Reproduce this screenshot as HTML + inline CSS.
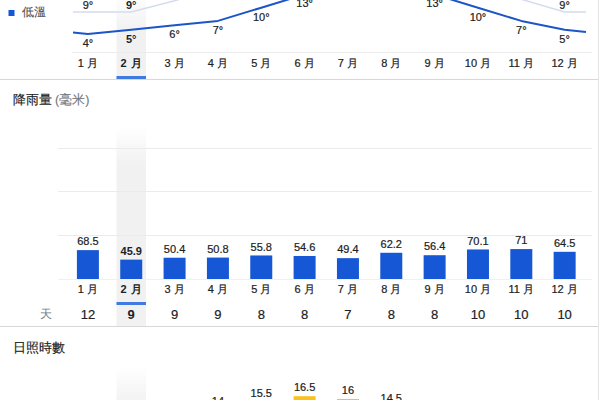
<!DOCTYPE html>
<html><head><meta charset="utf-8">
<style>
html,body{margin:0;padding:0;background:#fff;}
body{width:600px;height:400px;overflow:hidden;position:relative;font-family:"Liberation Sans",sans-serif;}
svg{position:absolute;left:0;top:0;}
text{font-family:"Liberation Sans",sans-serif;}
.s{stroke:#202124;stroke-width:0.2;}
</style></head><body>
<svg width="600" height="400" viewBox="0 0 600 400">
<defs>
<linearGradient id="g1" x1="0" y1="0" x2="0" y2="1">
<stop offset="0" stop-color="#f1f1f1" stop-opacity="0"/>
<stop offset="1" stop-color="#f1f1f1" stop-opacity="1"/>
</linearGradient>
</defs>

<rect x="116.49" y="-8" width="29.5" height="40" fill="url(#g1)"/>
<rect x="116.49" y="32" width="29.5" height="47" fill="#f1f1f1"/>
<rect x="116.49" y="127" width="29.5" height="38" fill="url(#g1)"/>
<rect x="116.49" y="165" width="29.5" height="161" fill="#f1f1f1"/>
<rect x="116.49" y="367" width="29.5" height="38" fill="url(#g1)"/>
<rect x="8.5" y="10" width="6" height="6" fill="#1557d4"/>
<text x="22" y="15.5" font-size="11.5" fill="#4d5156" stroke="#4d5156" stroke-width="0.1">低溫</text>
<rect x="72" y="52" width="520" height="1" fill="#ececec"/>
<polyline points="73.00,12.00 87.90,12.00 131.24,12.00 174.58,0.70 217.92,-12.00 261.26,-25.00 304.60,-38.00 347.94,-45.00 391.28,-45.00 434.62,-32.00 477.96,-14.00 521.30,-0.70 564.64,12.00 586.00,12.00" fill="none" stroke="#d4dcef" stroke-width="1.5" stroke-linejoin="round"/>
<polyline points="73.00,32.60 87.90,34.10 131.24,29.70 174.58,25.30 217.92,20.90 261.26,7.70 304.60,-5.50 347.94,-14.30 391.28,-14.30 434.62,-5.50 477.96,7.70 521.30,20.90 564.64,29.70 586.00,32.00" fill="none" stroke="#1c55c8" stroke-width="2" stroke-linejoin="round"/>
<text x="87.90" y="8.8" font-size="11" text-anchor="middle" fill="#202124"  class="s">9°</text>
<text x="131.24" y="8.8" font-size="11" text-anchor="middle" fill="#202124"  font-weight="bold" stroke="none">9°</text>
<text x="564.64" y="8.8" font-size="11" text-anchor="middle" fill="#202124"  class="s">9°</text>
<text x="87.90" y="47.00" font-size="11" text-anchor="middle" fill="#202124"  class="s">4°</text>
<text x="131.24" y="42.60" font-size="11" text-anchor="middle" fill="#202124"  font-weight="bold" stroke="none">5°</text>
<text x="174.58" y="38.20" font-size="11" text-anchor="middle" fill="#202124"  class="s">6°</text>
<text x="217.92" y="33.80" font-size="11" text-anchor="middle" fill="#202124"  class="s">7°</text>
<text x="261.26" y="20.60" font-size="11" text-anchor="middle" fill="#202124"  class="s">10°</text>
<text x="304.60" y="7.40" font-size="11" text-anchor="middle" fill="#202124"  class="s">13°</text>
<text x="347.94" y="-1.40" font-size="11" text-anchor="middle" fill="#202124"  class="s">15°</text>
<text x="391.28" y="-1.40" font-size="11" text-anchor="middle" fill="#202124"  class="s">15°</text>
<text x="434.62" y="7.40" font-size="11" text-anchor="middle" fill="#202124"  class="s">13°</text>
<text x="477.96" y="20.60" font-size="11" text-anchor="middle" fill="#202124"  class="s">10°</text>
<text x="521.30" y="33.80" font-size="11" text-anchor="middle" fill="#202124"  class="s">7°</text>
<text x="564.64" y="42.60" font-size="11" text-anchor="middle" fill="#202124"  class="s">5°</text>
<text x="87.90" y="66.6" font-size="11" text-anchor="middle" fill="#202124"  class="s">1 月</text>
<text x="131.24" y="66.6" font-size="11" text-anchor="middle" fill="#202124"  font-weight="bold" stroke="none">2 <tspan dx="1.5">月</tspan></text>
<text x="174.58" y="66.6" font-size="11" text-anchor="middle" fill="#202124"  class="s">3 月</text>
<text x="217.92" y="66.6" font-size="11" text-anchor="middle" fill="#202124"  class="s">4 月</text>
<text x="261.26" y="66.6" font-size="11" text-anchor="middle" fill="#202124"  class="s">5 月</text>
<text x="304.60" y="66.6" font-size="11" text-anchor="middle" fill="#202124"  class="s">6 月</text>
<text x="347.94" y="66.6" font-size="11" text-anchor="middle" fill="#202124"  class="s">7 月</text>
<text x="391.28" y="66.6" font-size="11" text-anchor="middle" fill="#202124"  class="s">8 月</text>
<text x="434.62" y="66.6" font-size="11" text-anchor="middle" fill="#202124"  class="s">9 月</text>
<text x="477.96" y="66.6" font-size="11" text-anchor="middle" fill="#202124"  class="s">10 月</text>
<text x="521.30" y="66.6" font-size="11" text-anchor="middle" fill="#202124"  class="s">11 月</text>
<text x="564.64" y="66.6" font-size="11" text-anchor="middle" fill="#202124"  class="s">12 月</text>
<rect x="116.49" y="76" width="29.5" height="3" fill="#3f7be0"/>
<rect x="0" y="79" width="598" height="1" fill="#d8d8d8"/>
<rect x="598" y="0" width="1" height="400" fill="#e4e4e4"/>
<text x="12.6" y="104.2" font-size="12.5" fill="#202124" stroke="#202124" stroke-width="0.15">降雨量</text><text x="55" y="104.4" font-size="12.5" fill="#70757a" stroke="#70757a" stroke-width="0.1">(毫米)</text>
<rect x="58" y="148" width="534" height="1" fill="#ebebeb"/>
<rect x="58" y="191" width="534" height="1" fill="#ebebeb"/>
<rect x="58" y="235" width="534" height="1" fill="#ebebeb"/>
<rect x="58" y="279" width="534" height="1" fill="#f0f0f0"/>
<rect x="76.90" y="250.13" width="22" height="28.87" fill="#1557d4"/>
<text x="87.90" y="245.23" font-size="11" text-anchor="middle" fill="#202124"  class="s">68.5</text>
<rect x="120.24" y="259.62" width="22" height="19.38" fill="#1557d4"/>
<text x="131.24" y="254.72" font-size="11" text-anchor="middle" fill="#202124"  font-weight="bold" stroke="none">45.9</text>
<rect x="163.58" y="257.73" width="22" height="21.27" fill="#1557d4"/>
<text x="174.58" y="252.83" font-size="11" text-anchor="middle" fill="#202124"  class="s">50.4</text>
<rect x="206.92" y="257.56" width="22" height="21.44" fill="#1557d4"/>
<text x="217.92" y="252.66" font-size="11" text-anchor="middle" fill="#202124"  class="s">50.8</text>
<rect x="250.26" y="255.46" width="22" height="23.54" fill="#1557d4"/>
<text x="261.26" y="250.56" font-size="11" text-anchor="middle" fill="#202124"  class="s">55.8</text>
<rect x="293.60" y="255.97" width="22" height="23.03" fill="#1557d4"/>
<text x="304.60" y="251.07" font-size="11" text-anchor="middle" fill="#202124"  class="s">54.6</text>
<rect x="336.94" y="258.15" width="22" height="20.85" fill="#1557d4"/>
<text x="347.94" y="253.25" font-size="11" text-anchor="middle" fill="#202124"  class="s">49.4</text>
<rect x="380.28" y="252.78" width="22" height="26.22" fill="#1557d4"/>
<text x="391.28" y="247.88" font-size="11" text-anchor="middle" fill="#202124"  class="s">62.2</text>
<rect x="423.62" y="255.21" width="22" height="23.79" fill="#1557d4"/>
<text x="434.62" y="250.31" font-size="11" text-anchor="middle" fill="#202124"  class="s">56.4</text>
<rect x="466.96" y="249.46" width="22" height="29.54" fill="#1557d4"/>
<text x="477.96" y="244.56" font-size="11" text-anchor="middle" fill="#202124"  class="s">70.1</text>
<rect x="510.30" y="249.08" width="22" height="29.92" fill="#1557d4"/>
<text x="521.30" y="244.18" font-size="11" text-anchor="middle" fill="#202124"  class="s">71</text>
<rect x="553.64" y="251.81" width="22" height="27.19" fill="#1557d4"/>
<text x="564.64" y="246.91" font-size="11" text-anchor="middle" fill="#202124"  class="s">64.5</text>
<text x="87.90" y="292.8" font-size="11" text-anchor="middle" fill="#202124"  class="s">1 月</text>
<text x="131.24" y="292.8" font-size="11" text-anchor="middle" fill="#202124"  font-weight="bold" stroke="none">2 <tspan dx="1.5">月</tspan></text>
<text x="174.58" y="292.8" font-size="11" text-anchor="middle" fill="#202124"  class="s">3 月</text>
<text x="217.92" y="292.8" font-size="11" text-anchor="middle" fill="#202124"  class="s">4 月</text>
<text x="261.26" y="292.8" font-size="11" text-anchor="middle" fill="#202124"  class="s">5 月</text>
<text x="304.60" y="292.8" font-size="11" text-anchor="middle" fill="#202124"  class="s">6 月</text>
<text x="347.94" y="292.8" font-size="11" text-anchor="middle" fill="#202124"  class="s">7 月</text>
<text x="391.28" y="292.8" font-size="11" text-anchor="middle" fill="#202124"  class="s">8 月</text>
<text x="434.62" y="292.8" font-size="11" text-anchor="middle" fill="#202124"  class="s">9 月</text>
<text x="477.96" y="292.8" font-size="11" text-anchor="middle" fill="#202124"  class="s">10 月</text>
<text x="521.30" y="292.8" font-size="11" text-anchor="middle" fill="#202124"  class="s">11 月</text>
<text x="564.64" y="292.8" font-size="11" text-anchor="middle" fill="#202124"  class="s">12 月</text>
<rect x="116.49" y="302" width="29.5" height="3" fill="#3f7be0"/>
<text x="40" y="317.5" font-size="12" fill="#757a80">天</text>
<text x="87.90" y="319.2" font-size="13" text-anchor="middle" fill="#202124"  class="s">12</text>
<text x="131.24" y="319.2" font-size="13" text-anchor="middle" fill="#202124"  font-weight="bold" stroke="none">9</text>
<text x="174.58" y="319.2" font-size="13" text-anchor="middle" fill="#202124"  class="s">9</text>
<text x="217.92" y="319.2" font-size="13" text-anchor="middle" fill="#202124"  class="s">9</text>
<text x="261.26" y="319.2" font-size="13" text-anchor="middle" fill="#202124"  class="s">8</text>
<text x="304.60" y="319.2" font-size="13" text-anchor="middle" fill="#202124"  class="s">8</text>
<text x="347.94" y="319.2" font-size="13" text-anchor="middle" fill="#202124"  class="s">7</text>
<text x="391.28" y="319.2" font-size="13" text-anchor="middle" fill="#202124"  class="s">8</text>
<text x="434.62" y="319.2" font-size="13" text-anchor="middle" fill="#202124"  class="s">8</text>
<text x="477.96" y="319.2" font-size="13" text-anchor="middle" fill="#202124"  class="s">10</text>
<text x="521.30" y="319.2" font-size="13" text-anchor="middle" fill="#202124"  class="s">10</text>
<text x="564.64" y="319.2" font-size="13" text-anchor="middle" fill="#202124"  class="s">10</text>
<rect x="0" y="326" width="598" height="1" fill="#d8d8d8"/>
<text x="12.8" y="352" font-size="12.5" fill="#202124" stroke="#202124" stroke-width="0.15">日照時數</text>
<rect x="206.92" y="409.95" width="22" height="60" fill="#fbc11c"/>
<text x="217.92" y="405.15" font-size="11" text-anchor="middle" fill="#202124" stroke="#202124" class="s">14</text>
<rect x="250.26" y="401.70" width="22" height="60" fill="#fbc11c"/>
<text x="261.26" y="396.90" font-size="11" text-anchor="middle" fill="#202124" stroke="#202124" class="s">15.5</text>
<rect x="293.60" y="396.20" width="22" height="60" fill="#fbc11c"/>
<text x="304.60" y="391.40" font-size="11" text-anchor="middle" fill="#202124" stroke="#202124" class="s">16.5</text>
<rect x="336.94" y="398.95" width="22" height="60" fill="#fbc11c"/>
<text x="347.94" y="394.15" font-size="11" text-anchor="middle" fill="#202124" stroke="#202124" class="s">16</text>
<rect x="380.28" y="407.20" width="22" height="60" fill="#fbc11c"/>
<text x="391.28" y="402.40" font-size="11" text-anchor="middle" fill="#202124" stroke="#202124" class="s">14.5</text>
</svg></body></html>
